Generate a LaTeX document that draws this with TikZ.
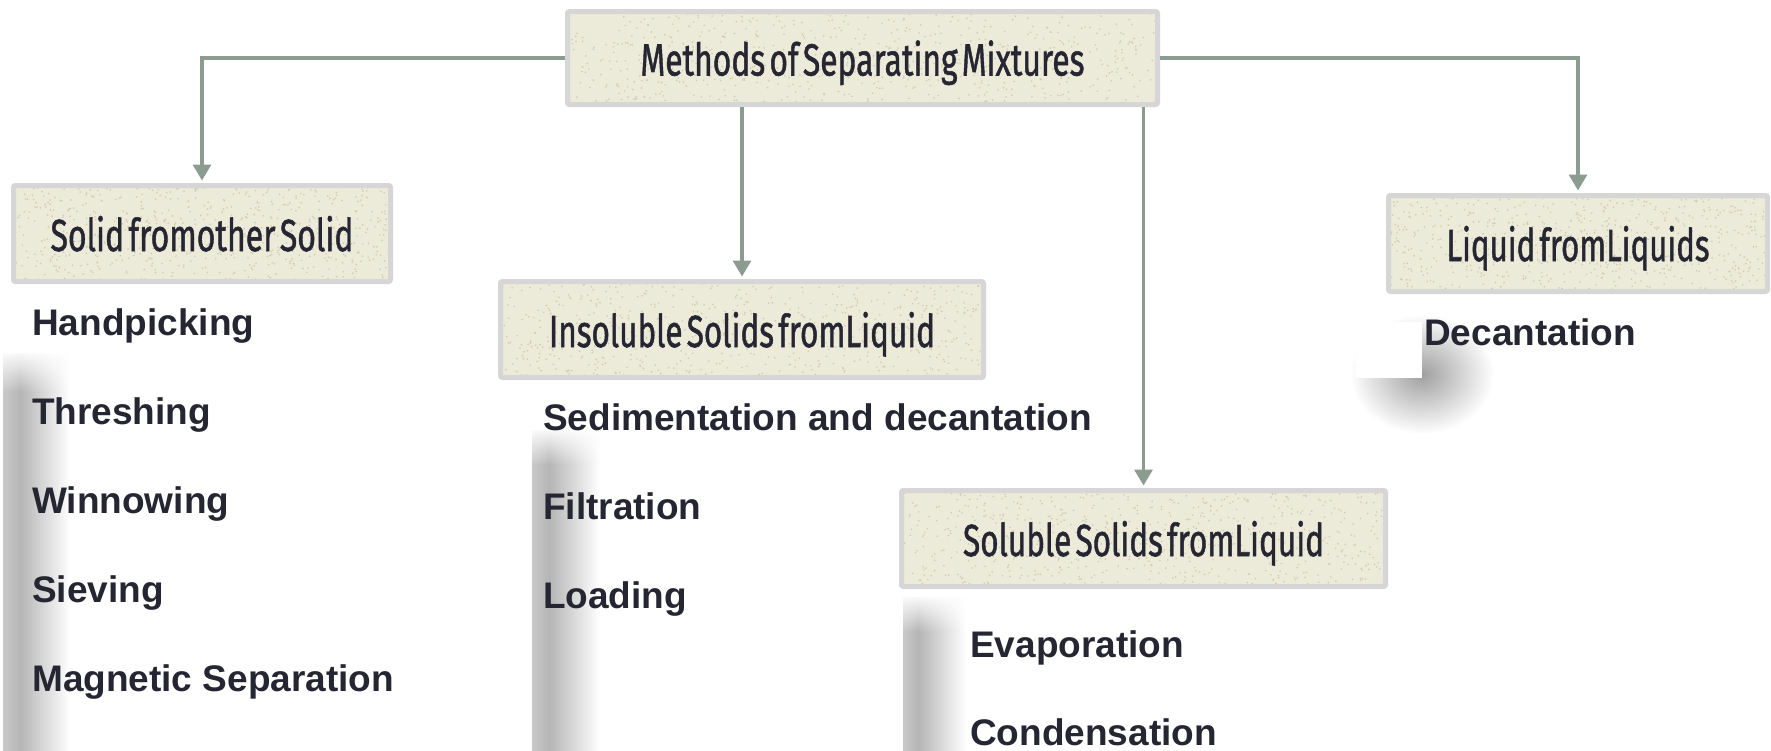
\documentclass[tikz,border=0pt]{standalone}
\usepackage{fontspec}
\setmainfont{Liberation Sans}
\newfontfamily\boxfont[WordSpace=0.5, FakeBold=1.3]{Fira Sans}
\usetikzlibrary{arrows.meta,fadings,calc}
\definecolor{boxfill}{HTML}{ECEAD8}
\definecolor{boxdot}{HTML}{CFCBB3}
\definecolor{boxline}{HTML}{D6D6D6}
\definecolor{connc}{HTML}{8C9C91}
\definecolor{ink}{HTML}{262632}
\tikzfading[name=fadedown, top color=transparent!0, bottom color=transparent!100]
\pgfmathsetseed{7}
\tikzset{
  catbox/.style 2 args={draw=boxline, line width=5pt, fill=boxfill, rounded corners=2pt,
    minimum width=#1, minimum height=#2,
    inner sep=0pt, text=ink, font=\boxfont\fontsize{45}{50}\selectfont,
    text height=35pt, text depth=0pt,
    path picture={\foreach \i in {1,...,650}{
      \fill[boxdot] ($(path picture bounding box.center)+(rand*#1/2, rand*#2/2)$) circle (0.9pt);}}},
  item/.style={anchor=base west, inner sep=0pt, text=ink,
    font=\bfseries\fontsize{37}{42}\selectfont},
  connector/.style={draw=connc, line width=3.3pt,
    -{Triangle[width=18pt,length=16pt]}, shorten >=2.5pt},
  stripdark/.style={left color=gray!42, right color=gray!58},
  stripfade/.style={left color=gray!58, right color=white},
}
\begin{document}
\begin{tikzpicture}[x=1pt, y=-1pt]
\useasboundingbox (0,0) rectangle (1771,750);
\fill[white] (0,0) rectangle (1771,750);

% shadow strips
\shade[stripdark] (3,353) rectangle (20,750);
\shade[stripfade] (20,353) rectangle (70,750);
\fill[white, path fading=fadedown] (0,350) rectangle (74,392);

\shade[stripdark] (532,430) rectangle (549,750);
\shade[stripfade] (549,430) rectangle (600,750);
\fill[white, path fading=fadedown] (530,427) rectangle (602,465);

\shade[stripdark] (903,597) rectangle (918,750);
\shade[stripfade] (918,597) rectangle (966,750);
\fill[white, path fading=fadedown] (900,594) rectangle (968,632);

% soft shadow near Decantation
\shade[inner color=gray!75, outer color=white] (1422,374) ellipse (72pt and 60pt);
\fill[white] (1356,322) rectangle (1422,378);

% boxes
\node[catbox={590}{93}] (top) at (862.5,58)
  {\resizebox{444pt}{\height}{Methods of Separating Mixtures}};
\node[catbox={377}{96}] (solid) at (202,233.5)
  {\resizebox{303pt}{\height}{Solid fromother Solid}};
\node[catbox={483}{96}] (ins) at (742,329.5)
  {\resizebox{386pt}{\height}{Insoluble Solids fromLiquid}};
\node[catbox={484}{96}] (sol) at (1143.5,538.5)
  {\resizebox{361pt}{\height}{Soluble Solids fromLiquid}};
\node[catbox={379}{96}] (liq) at (1578,243.5)
  {\resizebox{263pt}{\height}{Liquid fromLiquids}};

% connectors
\draw[connector] (top.west) -| (solid.north);
\draw[connector] (top.east) -| (liq.north);
\draw[connector] (top.south -| ins.north) -- (ins.north);
\draw[connector] (sol.north |- top.south) -- (sol.north);

% items
\node[item] (a1) at (32,335) {Handpicking};
\node[item] (a2) at (32,424) {Threshing};
\node[item] (a3) at (32,513) {Winnowing};
\node[item] (a4) at (32,602) {Sieving};
\node[item] (a5) at (32,691) {Magnetic Separation};

\node[item] (b1) at (543,430) {Sedimentation and decantation};
\node[item] (b2) at (543,519) {Filtration};
\node[item] (b3) at (543,608) {Loading};

\node[item] (c1) at (970,657) {Evaporation};
\node[item] (c2) at (970,745) {Condensation};

\node[item] (d1) at (1424,345) {Decantation};
\end{tikzpicture}
\end{document}
